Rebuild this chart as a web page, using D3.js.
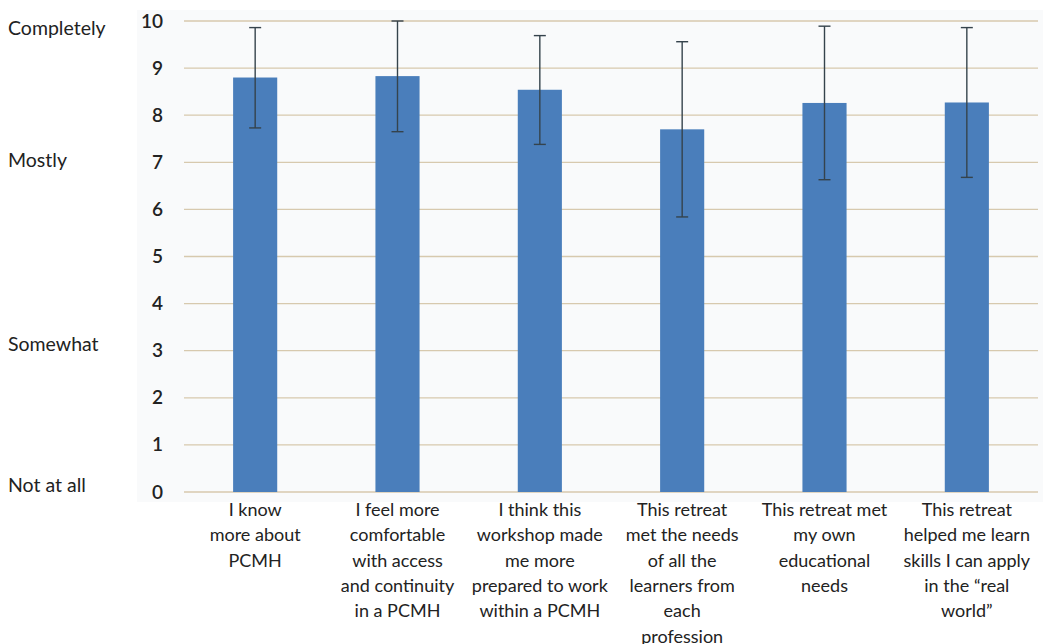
<!DOCTYPE html>
<html>
<head>
<meta charset="utf-8">
<script src="https://cdn.jsdelivr.net/npm/d3@7"></script>
<style>
  body { margin: 0; background: #fff; }
  svg text { font-family: Lato, "Open Sans", sans-serif; fill: #222; }
</style>
</head>
<body>
<div id="chart"></div>
<script>
const width = 1043;
const height = 644;

// data
const categories = [
  "I know more about PCMH",
  "I feel more comfortable with access and continuity in a PCMH",
  "I think this workshop made me more prepared to work within a PCMH",
  "This retreat met the needs of all the learners from each profession",
  "This retreat met my own educational needs",
  "This retreat helped me learn skills I can apply in the \u201creal world\u201d"
];
const labelLines = [
  ["I know", "more about", "PCMH"],
  ["I feel more", "comfortable", "with access", "and continuity", "in a PCMH"],
  ["I think this", "workshop made", "me more", "prepared to work", "within a PCMH"],
  ["This retreat", "met the needs", "of all the", "learners from", "each", "profession"],
  ["This retreat met", "my own", "educational", "needs"],
  ["This retreat", "helped me learn", "skills I can apply", "in the \u201creal", "world\u201d"]
];
const means = [8.8, 8.83, 8.54, 7.7, 8.26, 8.27];
const errHigh = [9.86, 10.0, 9.69, 9.56, 9.89, 9.86];
const errLow = [7.73, 7.65, 7.38, 5.84, 6.63, 6.68];
const yTicks = [0, 1, 2, 3, 4, 5, 6, 7, 8, 9, 10];
const scaleWords = ["Completely", "Mostly", "Somewhat", "Not at all"];
const scaleAt = [9.8, 7.0, 3.1, 0.1];

const color_bar = "#4a7ebb";
const color_grid = "#d7c9ae";
const color_err = "#35434c";

let svg = d3
  .select("#chart")
  .append("svg")
  .attr("width", width)
  .attr("height", height);

// plot background
svg.append("rect")
  .attr("x", 137).attr("y", 10)
  .attr("width", width - 137).attr("height", 492)
  .attr("fill", "#f9fafb");

let x = d3.scaleBand()
  .domain(categories)
  .range([184, 1038])
  .paddingInner(0.69)
  .paddingOuter(0.345);

let y = d3.scaleLinear().domain([0, 10]).range([492, 21]);

// gridlines
svg.selectAll(".grid")
  .data(yTicks)
  .enter()
  .append("line")
  .attr("class", "grid")
  .attr("x1", 184).attr("x2", 1038)
  .attr("y1", (d) => y(d)).attr("y2", (d) => y(d))
  .attr("stroke", color_grid)
  .attr("stroke-width", 1.3);

// y axis tick labels
let yAxis = d3.axisLeft(y).tickValues(yTicks).tickSize(0).tickPadding(0);
let gy = svg.append("g").attr("transform", "translate(163,0)").call(yAxis);
gy.select(".domain").remove();
gy.selectAll("text")
  .style("font-family", "Lato, 'Open Sans', sans-serif")
  .style("font-size", "19px")
  .style("font-weight", "600")
  .attr("fill", "#333");

// scale words on the far left
svg.selectAll(".scale-word")
  .data(scaleWords)
  .enter()
  .append("text")
  .attr("class", "scale-word")
  .attr("x", 8)
  .attr("y", (d, i) => y(scaleAt[i]))
  .attr("dominant-baseline", "middle")
  .style("font-size", "19.5px")
  .text((d) => d);

// bars
svg.selectAll(".bar")
  .data(categories)
  .enter()
  .append("rect")
  .attr("class", "bar")
  .attr("x", (d) => x(d))
  .attr("width", x.bandwidth())
  .attr("y", (d, i) => y(means[i]))
  .attr("height", (d, i) => y(0) - y(means[i]))
  .attr("fill", color_bar);

// error bars
let err = svg.selectAll(".err")
  .data(categories)
  .enter()
  .append("g")
  .attr("class", "err")
  .attr("transform", (d) => `translate(${x(d) + x.bandwidth() / 2},0)`)
  .attr("stroke", color_err)
  .attr("stroke-width", 1.4);
err.append("line")
  .attr("y1", (d, i) => y(errHigh[i]))
  .attr("y2", (d, i) => y(errLow[i]));
err.append("line")
  .attr("x1", -6).attr("x2", 6)
  .attr("y1", (d, i) => y(errHigh[i]))
  .attr("y2", (d, i) => y(errHigh[i]));
err.append("line")
  .attr("x1", -6).attr("x2", 6)
  .attr("y1", (d, i) => y(errLow[i]))
  .attr("y2", (d, i) => y(errLow[i]));

// category labels, wrapped as in the original
let xl = svg.selectAll(".xlab")
  .data(categories)
  .enter()
  .append("text")
  .attr("class", "xlab")
  .attr("text-anchor", "middle")
  .style("font-size", "18px");
xl.selectAll("tspan")
  .data((d, i) => labelLines[i].map((t) => ({ t: t, c: d })))
  .enter()
  .append("tspan")
  .attr("x", (d) => x(d.c) + x.bandwidth() / 2)
  .attr("y", (d, j) => 516 + j * 25.3)
  .text((d) => d.t);
</script>
</body>
</html>
